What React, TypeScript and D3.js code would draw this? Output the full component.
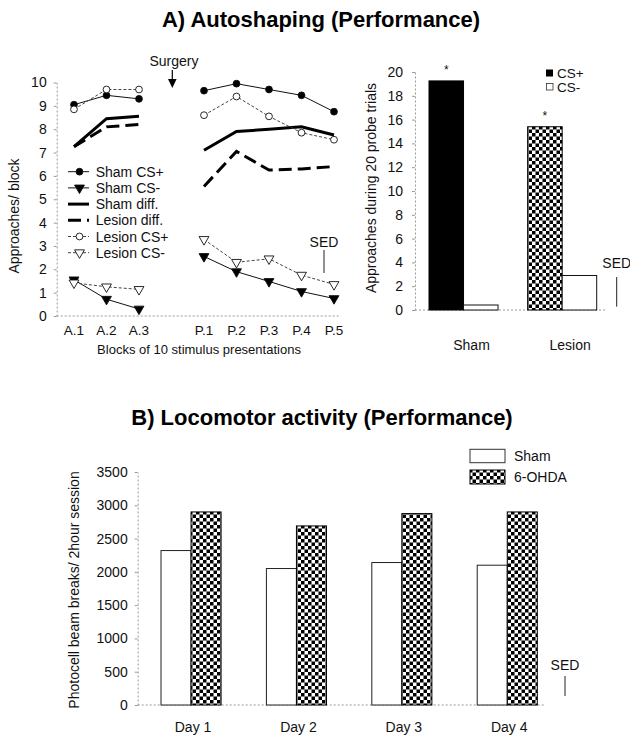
import React, { useRef, useEffect } from "react"
import * as d3 from "d3"

// A) Autoshaping, line chart
const acqBlocks = ["A.1", "A.2", "A.3"]
const perfBlocks = ["P.1", "P.2", "P.3", "P.4", "P.5"]
const shamCSPlus = [9.05, 9.45, 9.3, 9.65, 9.95, 9.7, 9.45, 8.75]
const shamCSMinus = [1.55, 0.72, 0.3, 2.55, 1.9, 1.48, 1.05, 0.75]
const shamDiff = [7.25, 8.45, 8.55, 7.1, 7.9, 8.0, 8.1, 7.75]
const lesionDiff = [7.25, 8.1, 8.2, 5.55, 7.05, 6.25, 6.3, 6.4]
const lesionCSPlus = [8.85, 9.7, 9.7, 8.6, 9.4, 8.55, 7.85, 7.55]
const lesionCSMinus = [1.42, 1.25, 1.14, 3.28, 2.3, 2.45, 1.75, 1.35]

// A) probe trials, bar chart
const probeGroups = ["Sham", "Lesion"]
const probeCSPlus = [19.25, 15.4]
const probeCSMinus = [0.42, 2.9]

// B) Locomotor activity
const days = ["Day 1", "Day 2", "Day 3", "Day 4"]
const shamActivity = [2320, 2050, 2140, 2100]
const ohdaActivity = [2900, 2690, 2875, 2900]

const FONT = "'Liberation Sans', Arial, Helvetica, sans-serif"

const App: React.FC = () => {
  const svgRef = useRef<SVGSVGElement | null>(null)

  useEffect(() => {
    if (!svgRef.current) return
    const svg = d3.select(svgRef.current)
    svg.selectAll("*").remove()
    svg.attr("font-family", FONT)

    // checker fill used by lesion / 6-OHDA bars
    const pat = svg
      .append("defs")
      .append("pattern")
      .attr("id", "checker")
      .attr("width", 7)
      .attr("height", 7)
      .attr("patternUnits", "userSpaceOnUse")
    pat.append("rect").attr("width", 7).attr("height", 7).attr("fill", "#fff")
    pat.append("rect").attr("width", 3.5).attr("height", 3.5).attr("fill", "#000")
    pat.append("rect").attr("x", 3.5).attr("y", 3.5).attr("width", 3.5).attr("height", 3.5).attr("fill", "#000")

    const styleAxis = (g: any) => {
      g.attr("font-family", FONT).attr("font-size", 13)
      g.select(".domain").attr("stroke", "#999").attr("stroke-dasharray", "2,2")
      g.selectAll(".tick line").attr("stroke", "#999")
      g.selectAll(".tick text").attr("fill", "#111")
    }

    const addText = (x: number, y: number, txt: string, size = 14, anchor = "middle") =>
      svg
        .append("text")
        .attr("x", x)
        .attr("y", y)
        .attr("text-anchor", anchor)
        .attr("font-size", size)
        .attr("fill", "#111")
        .text(txt)

    const addYLabel = (x: number, y: number, txt: string) =>
      svg
        .append("text")
        .attr("transform", `translate(${x},${y}) rotate(-90)`)
        .attr("text-anchor", "middle")
        .attr("font-size", 14)
        .attr("fill", "#111")
        .text(txt)

    const addSED = (x: number, y: number, y1: number, y2: number) => {
      addText(x, y, "SED", 14)
      svg.append("line").attr("x1", x).attr("x2", x).attr("y1", y1).attr("y2", y2).attr("stroke", "#222").attr("stroke-width", 1)
    }

    // titles
    svg.append("text").attr("x", 321).attr("y", 27).attr("text-anchor", "middle")
      .attr("font-size", 22).attr("font-weight", "bold").text("A) Autoshaping (Performance)")
    svg.append("text").attr("x", 322).attr("y", 425).attr("text-anchor", "middle")
      .attr("font-size", 22).attr("font-weight", "bold").text("B) Locomotor activity (Performance)")

    // ---------- line chart ----------
    const allBlocks = [...acqBlocks, "gap", ...perfBlocks]
    const x1 = d3.scalePoint<string>().domain(allBlocks).range([74, 334])
    const y1 = d3.scaleLinear().domain([0, 10]).range([316, 82.5])
    const labels = [...acqBlocks, ...perfBlocks]

    const yAx1 = svg.append("g").attr("transform", "translate(56.7,0)")
      .call(d3.axisLeft(y1).ticks(10).tickSize(3).tickSizeOuter(0).tickPadding(7))
    styleAxis(yAx1)
    yAx1.attr("font-size", 14)
    svg.append("line").attr("x1", 56.7).attr("x2", 340).attr("y1", y1(0)).attr("y2", y1(0))
      .attr("stroke", "#999").attr("stroke-dasharray", "2,2")
    labels.forEach((b) => addText(x1(b)!, 335, b, 13.5))
    addText(199, 354, "Blocks of 10 stimulus presentations", 13)
    addYLabel(19, 216, "Approaches/ block")

    type Series = { vals: number[]; width: number; dash: string | null; marker: string | null; fill: string; color: string }
    const series: Series[] = [
      { vals: shamCSPlus, width: 1, dash: null, marker: "circle", fill: "#000", color: "#111" },
      { vals: shamCSMinus, width: 1, dash: null, marker: "tri", fill: "#000", color: "#111" },
      { vals: shamDiff, width: 3, dash: null, marker: null, fill: "none", color: "#000" },
      { vals: lesionDiff, width: 3, dash: "13,6", marker: null, fill: "none", color: "#000" },
      { vals: lesionCSPlus, width: 1, dash: "3,2", marker: "circle", fill: "#fff", color: "#444" },
      { vals: lesionCSMinus, width: 1, dash: "3,2", marker: "tri", fill: "#fff", color: "#444" },
    ]
    const line = d3.line<[string, number]>().x((d) => x1(d[0])!).y((d) => y1(d[1]))
    const triPath = d3.symbol().type(d3.symbolTriangle).size(42)()

    const drawMarker = (g: any, s: Series, cx: number, cy: number) => {
      if (s.marker === "circle") {
        g.append("circle").attr("cx", cx).attr("cy", cy).attr("r", 3.4)
          .attr("fill", s.fill).attr("stroke", "#111").attr("stroke-width", 0.9)
      } else if (s.marker === "tri") {
        g.append("path").attr("d", triPath).attr("transform", `translate(${cx},${cy}) rotate(180)`)
          .attr("fill", s.fill).attr("stroke", "#111").attr("stroke-width", 0.9)
      }
    }

    const lines = svg.append("g")
    series.forEach((s) => {
      const pts: [string, number][] = labels.map((b, i) => [b, s.vals[i]])
      ;[pts.slice(0, 3), pts.slice(3)].forEach((seg) => {
        lines.append("path").attr("d", line(seg)).attr("fill", "none").attr("stroke", s.color)
          .attr("stroke-width", s.width).attr("stroke-dasharray", s.dash)
      })
      pts.forEach((p) => drawMarker(lines, s, x1(p[0])!, y1(p[1])))
    })

    // legend
    const legNames = ["Sham CS+", "Sham CS-", "Sham diff.", "Lesion diff.", "Lesion CS+", "Lesion CS-"]
    legNames.forEach((n, i) => {
      const s = series[i]
      const ly = 171.7 + i * 16.2
      svg.append("line").attr("x1", 68).attr("x2", 89).attr("y1", ly).attr("y2", ly).attr("stroke", s.color)
        .attr("stroke-width", s.width).attr("stroke-dasharray", s.dash)
      drawMarker(svg, s, 79.5, ly)
      addText(95.7, ly + 5, n, 14, "start")
    })

    // surgery marker
    addText(174, 66, "Surgery", 14)
    svg.append("line").attr("x1", 172.3).attr("x2", 172.3).attr("y1", 70).attr("y2", 80).attr("stroke", "#000").attr("stroke-width", 1.2)
    svg.append("path").attr("d", "M168,79 L176.6,79 L172.3,88 Z").attr("fill", "#000")
    addSED(324, 247, 250, 273)

    // ---------- probe bar chart ----------
    const y2 = d3.scaleLinear().domain([0, 20]).range([310, 72])
    const x2 = d3.scaleBand<string>().domain(probeGroups).range([429, 596.7]).paddingInner(0.3).paddingOuter(0)
    const x2s = d3.scaleBand<string>().domain(["CS+", "CS-"]).range([0, x2.bandwidth()])
    const yAx2 = svg.append("g").attr("transform", "translate(415,0)")
      .call(d3.axisLeft(y2).ticks(10).tickSize(3).tickSizeOuter(0).tickPadding(9))
    styleAxis(yAx2)
    yAx2.attr("font-size", 14)
    svg.append("line").attr("x1", 415).attr("x2", 605).attr("y1", y2(0)).attr("y2", y2(0))
      .attr("stroke", "#999").attr("stroke-dasharray", "2,2")
    probeGroups.forEach((g, i) => {
      const gx = x2(g)!
      svg.append("rect").attr("x", gx + x2s("CS+")!).attr("y", y2(probeCSPlus[i]))
        .attr("width", x2s.bandwidth()).attr("height", y2(0) - y2(probeCSPlus[i]))
        .attr("fill", i === 0 ? "#000" : "url(#checker)").attr("stroke", "#000").attr("stroke-width", 1)
      svg.append("rect").attr("x", gx + x2s("CS-")!).attr("y", y2(probeCSMinus[i]))
        .attr("width", x2s.bandwidth()).attr("height", y2(0) - y2(probeCSMinus[i]))
        .attr("fill", "#fff").attr("stroke", "#111").attr("stroke-width", 1)
      addText(gx + x2s("CS+")! + x2s.bandwidth() / 2, y2(probeCSPlus[i]) - 7, "*", 12)
      addText(gx + x2.bandwidth() / 2 + 8, 350, g, 14)
    })
    addYLabel(376, 188, "Approaches during 20 probe trials")
    svg.append("rect").attr("x", 546).attr("y", 69.5).attr("width", 7).attr("height", 7).attr("fill", "#000")
    svg.append("rect").attr("x", 546.5).attr("y", 83.5).attr("width", 6.5).attr("height", 6.5).attr("fill", "#fff").attr("stroke", "#333").attr("stroke-width", 0.8)
    addText(557, 78, "CS+", 13.5, "start")
    addText(557, 91.5, "CS-", 13.5, "start")
    addSED(616.7, 268, 277, 306.7)

    // ---------- locomotor bar chart ----------
    const y3 = d3.scaleLinear().domain([0, 3500]).range([705, 472])
    const x3 = d3.scaleBand<string>().domain(days).range([161, 537.3]).paddingInner(0.43).paddingOuter(0)
    const x3s = d3.scaleBand<string>().domain(["Sham", "6-OHDA"]).range([0, x3.bandwidth()])
    const yAx3 = svg.append("g").attr("transform", "translate(137.7,0)")
      .call(
        d3.axisLeft(y3).tickValues(d3.range(0, 3501, 500)).tickFormat(d3.format("d"))
          .tickSize(3).tickSizeOuter(0).tickPadding(7)
      )
    styleAxis(yAx3)
    yAx3.attr("font-size", 14)
    svg.append("line").attr("x1", 137.7).attr("x2", 545).attr("y1", y3(0)).attr("y2", y3(0))
      .attr("stroke", "#999").attr("stroke-dasharray", "2,2")
    days.forEach((d, i) => {
      const gx = x3(d)!
      svg.append("rect").attr("x", gx + x3s("Sham")!).attr("y", y3(shamActivity[i]))
        .attr("width", x3s.bandwidth()).attr("height", y3(0) - y3(shamActivity[i]))
        .attr("fill", "#fff").attr("stroke", "#222").attr("stroke-width", 1)
      svg.append("rect").attr("x", gx + x3s("6-OHDA")!).attr("y", y3(ohdaActivity[i]))
        .attr("width", x3s.bandwidth()).attr("height", y3(0) - y3(ohdaActivity[i]))
        .attr("fill", "url(#checker)").attr("stroke", "#000").attr("stroke-width", 1)
      addText(gx + x3.bandwidth() / 2 + 2, 732, d, 14)
    })
    addYLabel(79, 590, "Photocell beam breaks/ 2hour session")
    svg.append("rect").attr("x", 470).attr("y", 449.3).attr("width", 35).attr("height", 13.4)
      .attr("fill", "#fff").attr("stroke", "#333").attr("stroke-width", 1)
    svg.append("rect").attr("x", 470).attr("y", 470).attr("width", 35).attr("height", 14)
      .attr("fill", "url(#checker)").attr("stroke", "#000").attr("stroke-width", 1)
    addText(514, 461, "Sham", 14, "start")
    addText(514, 482, "6-OHDA", 14, "start")
    addSED(565, 670, 676, 696)
  }, [])

  return (
    <svg
      ref={svgRef}
      width={630}
      height={738}
      style={{ position: "absolute", left: 0, top: 0, background: "#fff" }}
    ></svg>
  )
}

export default App
